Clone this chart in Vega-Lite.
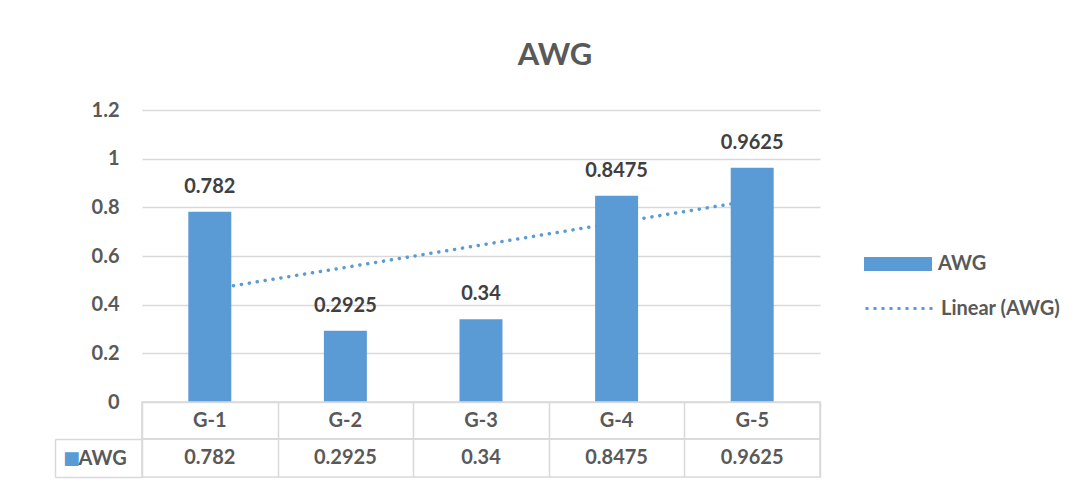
{
  "$schema": "https://vega.github.io/schema/vega-lite/v6.json",
  "background": "white",
  "padding": {"left": 53, "top": 40, "right": 10, "bottom": 7},
  "title": {"text": "AWG", "font": "Lato", "fontSize": 31, "fontWeight": "bold", "color": "#595959", "anchor": "middle", "frame": "group", "dx": 74, "offset": 28},
  "datasets": {
    "awg": [
      {"g": "G-1", "v": 0.782, "series": "AWG"},
      {"g": "G-2", "v": 0.2925, "series": "AWG"},
      {"g": "G-3", "v": 0.34, "series": "AWG"},
      {"g": "G-4", "v": 0.8475, "series": "AWG"},
      {"g": "G-5", "v": 0.9625, "series": "AWG"}
    ],
    "trend": [
      {"g": "G-1", "t": 0.462},
      {"g": "G-2", "t": 0.553},
      {"g": "G-3", "t": 0.645},
      {"g": "G-4", "t": 0.737},
      {"g": "G-5", "t": 0.828}
    ]
  },
  "spacing": 0,
  "bounds": "flush",
  "vconcat": [
    {
      "width": 678,
      "height": 292,
      "layer": [
        {
          "data": {"name": "trend"},
          "mark": {"type": "line", "strokeWidth": 3.5, "strokeCap": "round", "strokeDash": [0.1, 7.9]},
          "encoding": {
            "x": {"field": "g", "type": "nominal", "axis": null},
            "y": {"field": "t", "type": "quantitative"},
            "stroke": {
              "datum": "Linear (AWG)",
              "scale": {"range": ["#5b9bd5"]},
              "legend": {"orient": "none", "legendX": 722, "legendY": 163, "title": null, "symbolType": "stroke", "symbolSize": 4624, "symbolStrokeWidth": 3, "symbolDash": [3, 5], "padding": 0, "labelOffset": 6}
            }
          }
        },
        {
          "data": {"name": "awg"},
          "mark": {"type": "bar", "width": {"band": 0.317}},
          "encoding": {
            "x": {"field": "g", "type": "nominal", "axis": null},
            "y": {
              "field": "v", "type": "quantitative",
              "scale": {"domain": [0, 1.2]},
              "axis": {"values": [0, 0.2, 0.4, 0.6, 0.8, 1, 1.2], "format": "~g", "grid": true, "gridColor": "#d9d9d9", "gridWidth": 1.5, "domain": false, "ticks": false, "labelPadding": 23, "title": null}
            },
            "fill": {
              "datum": "AWG",
              "scale": {"range": ["#5b9bd5"]},
              "legend": {"orient": "none", "legendX": 722, "legendY": 120, "title": null, "symbolType": "M-1,-0.206H1V0.206H-1Z", "symbolSize": 4624, "symbolStrokeWidth": 0, "padding": 0, "labelOffset": 6}
            }
          }
        },
        {
          "data": {"name": "awg"},
          "mark": {"type": "text", "dy": -19, "baseline": "alphabetic", "color": "#404040"},
          "encoding": {
            "x": {"field": "g", "type": "nominal", "axis": null},
            "y": {"field": "v", "type": "quantitative"},
            "text": {"field": "v", "type": "quantitative"}
          }
        }
      ]
    },
    {
      "width": 678,
      "height": 37,
      "view": {"stroke": "#d9d9d9", "strokeWidth": 1.5},
      "data": {"name": "awg"},
      "mark": {"type": "text", "color": "#595959"},
      "encoding": {
        "x": {"field": "g", "type": "nominal", "axis": {"grid": true, "tickBand": "extent", "labels": false, "ticks": false, "domain": false, "title": null, "gridColor": "#d9d9d9", "gridWidth": 1.5}},
        "text": {"field": "g", "type": "nominal"}
      }
    },
    {
      "width": 678,
      "height": 38,
      "view": {"stroke": "#d9d9d9", "strokeWidth": 1.5},
      "data": {"name": "awg"},
      "mark": {"type": "text", "color": "#595959"},
      "encoding": {
        "x": {"field": "g", "type": "nominal", "axis": {"grid": true, "tickBand": "extent", "labels": false, "ticks": false, "domain": false, "title": null, "gridColor": "#d9d9d9", "gridWidth": 1.5}},
        "y": {
          "field": "series", "type": "nominal",
          "axis": {"offset": 87, "tickBand": "extent", "tickSize": -87, "tickColor": "#d9d9d9", "tickWidth": 1.5, "domainColor": "#d9d9d9", "domainWidth": 1.5, "labelPadding": 64, "labelAlign": "left", "grid": false,
                   "title": "■", "titleColor": "#5b9bd5", "titleFont": "DejaVu Sans", "titleFontSize": 18, "titleFontWeight": "normal", "titleAngle": 0, "titleAlign": "center", "titleBaseline": "middle", "titleX": 16, "titleY": 19}
        },
        "text": {"field": "v", "type": "quantitative"}
      }
    }
  ],
  "config": {
    "view": {"stroke": null},
    "font": "Lato",
    "scale": {"bandPaddingInner": 0, "bandPaddingOuter": 0},
    "axis": {"labelFont": "Lato", "labelFontWeight": "bold", "labelFontSize": 20, "labelColor": "#595959"},
    "legend": {"labelFont": "Lato", "labelFontWeight": "bold", "labelFontSize": 20, "labelColor": "#595959"},
    "text": {"font": "Lato", "fontWeight": "bold", "fontSize": 20}
  }
}
